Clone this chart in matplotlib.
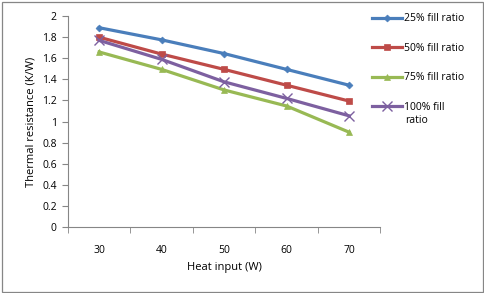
import matplotlib
matplotlib.use("Agg")
import matplotlib.pyplot as plt
import numpy as np

plt.rcParams['font.family'] = ['Open Sans', 'DejaVu Sans']

heat_input = ["30", "40", "50", "60", "70"]
fill_25 = [1.89, 1.775, 1.645, 1.495, 1.345]
fill_50 = [1.80, 1.64, 1.495, 1.345, 1.195]
fill_75 = [1.66, 1.495, 1.30, 1.148, 0.90]
fill_100 = [1.77, 1.59, 1.377, 1.22, 1.055]
labels = ["25% fill ratio", "50% fill ratio", "75% fill ratio", "100% fill"]
label_wrap = "ratio"
yticks = [0, 0.2, 0.4, 0.6, 0.8, 1, 1.2, 1.4, 1.6, 1.8, 2]
ytick_labels = ["0", "0.2", "0.4", "0.6", "0.8", "1", "1.2", "1.4", "1.6", "1.8", "2"]

colors = ["#4A7EBB", "#BE4B48", "#98B954", "#7D60A0"]
markers = ["D", "s", "^", "x"]
msizes = [3.5, 5, 5, 7]

fig = plt.figure(figsize=(4.85, 2.93), dpi=100)
ax = fig.add_axes([0.140, 0.225, 0.644, 0.720])
x = np.arange(len(heat_input))
series = [fill_25, fill_50, fill_75, fill_100]
handles = []
for s, c, m, ms, lab in zip(series, colors, markers, msizes, labels):
    h, = ax.plot(x, s, color=c, lw=2.3, marker=m, markersize=ms,
                 markeredgewidth=1 if m == "x" else 0.5, label=lab)
    handles.append(h)

ax.set_xlim(-0.5, 4.5)
ax.set_ylim(0, 2)
ax.set_yticks(yticks)
ax.set_yticklabels(ytick_labels, fontsize=7.5)
ax.set_xticks(x)
ax.set_xticklabels(heat_input, fontsize=7.5)
ax.set_xticks(np.arange(-0.5, 5, 1), minor=True)
ax.tick_params(axis='x', which='major', length=0, pad=13)
ax.tick_params(axis='x', which='minor', length=4, color='#868686', direction='out')
ax.tick_params(axis='y', length=4, color='#868686', direction='out', pad=4)
for sp in ['top', 'right']:
    ax.spines[sp].set_visible(False)
for sp in ['left', 'bottom']:
    ax.spines[sp].set_color('#868686')
    ax.spines[sp].set_linewidth(0.8)

ax.set_xlabel("Heat input (W)", fontsize=8, labelpad=4)
ax.set_ylabel("Thermal resistance (K/W)", fontsize=8, labelpad=4)

leg = fig.legend(handles=handles, loc='upper left', bbox_to_anchor=(0.768, 0.955),
                 frameon=False, fontsize=7.5, handlelength=2.8, handletextpad=0.2,
                 labelspacing=1.78, borderaxespad=0, borderpad=0)
fig.text(405 / 485, 1 - 121 / 293, label_wrap, fontsize=7.5, va='center', ha='left')

border = plt.Rectangle((0.004, 0.004), 0.992, 0.99, transform=fig.transFigure,
                       fill=False, edgecolor='#868686', lw=0.9)
fig.patches.append(border)

fig.savefig("out.png", dpi=100)
